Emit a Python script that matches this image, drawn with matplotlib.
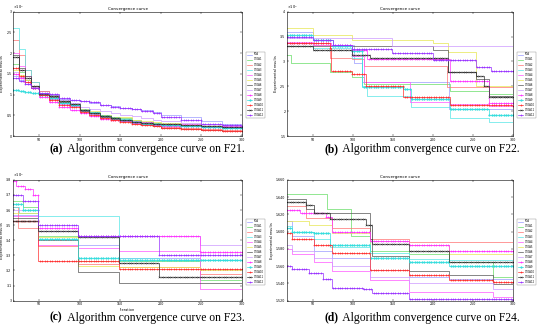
import matplotlib
matplotlib.use("Agg")
import matplotlib.pyplot as plt
import numpy as np

names = ["FOA"] + ["CTOA%d" % i for i in range(1, 13)]
colors = ["#9a9aff", "#66dd66", "#ff7070", "#55e6e6", "#ff55ff", "#e6e650", "#555555",
          "#cc99ff", "#ff33ff", "#33dddd", "#ff3030", "#333333", "#9933ff"]
markers = [None] * 8 + ["*", "o", "*", "x", "*"]

# F21: values on a common iteration grid (x10^4)
f21_x = [18, 25, 32, 40, 50, 62, 75, 88, 100, 112, 125, 138, 150, 165, 175, 190, 200, 225, 250, 275, 300]
f21 = {
    "FOA":    [1.45, 1.35, 1.25, 1.15, 1.08, 1.0, 0.9, 0.88, 0.84, 0.8, 0.76, 0.72, 0.68, 0.65, 0.62, 0.58, 0.52, 0.45, 0.36, 0.30, 0.28],
    "CTOA1":  [1.75, 1.55, 1.35, 1.2, 1.05, 0.98, 0.84, 0.76, 0.64, 0.58, 0.5, 0.45, 0.44, 0.38, 0.34, 0.32, 0.3, 0.27, 0.23, 0.21, 0.2],
    "CTOA2":  [2.33, 1.95, 1.6, 1.3, 1.08, 0.95, 0.82, 0.74, 0.6, 0.55, 0.46, 0.40, 0.36, 0.3, 0.27, 0.25, 0.22, 0.2, 0.16, 0.14, 0.13],
    "CTOA3":  [2.6, 2.1, 1.6, 1.3, 1.05, 0.9, 0.8, 0.72, 0.62, 0.57, 0.5, 0.44, 0.42, 0.36, 0.32, 0.3, 0.28, 0.25, 0.22, 0.2, 0.19],
    "CTOA4":  [2.0, 1.7, 1.45, 1.22, 1.0, 0.9, 0.78, 0.72, 0.6, 0.54, 0.47, 0.42, 0.4, 0.36, 0.33, 0.3, 0.3, 0.28, 0.25, 0.24, 0.22],
    "CTOA5":  [1.6, 1.48, 1.35, 1.2, 1.05, 0.96, 0.85, 0.78, 0.65, 0.6, 0.52, 0.46, 0.45, 0.4, 0.36, 0.33, 0.31, 0.27, 0.24, 0.22, 0.21],
    "CTOA6":  [1.95, 1.65, 1.45, 1.2, 1.0, 0.95, 0.82, 0.76, 0.6, 0.55, 0.47, 0.42, 0.38, 0.33, 0.28, 0.24, 0.2, 0.18, 0.15, 0.12, 0.12],
    "CTOA7":  [1.55, 1.42, 1.3, 1.18, 1.05, 0.98, 0.86, 0.8, 0.7, 0.66, 0.6, 0.56, 0.52, 0.48, 0.44, 0.4, 0.36, 0.32, 0.28, 0.26, 0.24],
    "CTOA8":  [1.5, 1.4, 1.3, 1.15, 0.95, 0.82, 0.7, 0.62, 0.55, 0.48, 0.42, 0.38, 0.36, 0.32, 0.28, 0.26, 0.25, 0.24, 0.22, 0.21, 0.2],
    "CTOA9":  [1.1, 1.08, 1.06, 1.04, 1.0, 0.92, 0.8, 0.74, 0.62, 0.56, 0.48, 0.43, 0.4, 0.35, 0.3, 0.28, 0.26, 0.24, 0.21, 0.2, 0.2],
    "CTOA10": [1.65, 1.45, 1.3, 1.15, 1.0, 0.88, 0.75, 0.7, 0.58, 0.52, 0.44, 0.38, 0.35, 0.3, 0.26, 0.24, 0.2, 0.17, 0.15, 0.13, 0.13],
    "CTOA11": [1.9, 1.6, 1.4, 1.2, 1.02, 0.96, 0.84, 0.78, 0.62, 0.56, 0.48, 0.43, 0.4, 0.35, 0.32, 0.3, 0.28, 0.26, 0.24, 0.22, 0.21],
    "CTOA12": [1.4, 1.33, 1.25, 1.15, 1.05, 1.02, 0.92, 0.88, 0.85, 0.82, 0.75, 0.70, 0.68, 0.66, 0.6, 0.55, 0.45, 0.38, 0.30, 0.26, 0.25],
}

# F22: (step iterations, values) x10^4
f22 = {
    "FOA":    ([18, 50, 75, 101, 112, 220, 300], [3.60, 3.44, 3.34, 2.97, 2.58, 2.05, 2.05]),
    "CTOA1":  ([18, 23, 71, 99, 114, 221, 270, 300], [3.14, 2.96, 2.78, 2.68, 2.55, 2.41, 2.35, 2.35]),
    "CTOA2":  ([18, 50, 71, 99, 114, 217, 300], [3.37, 3.34, 3.07, 3.04, 2.91, 2.48, 2.46]),
    "CTOA3":  ([18, 50, 99, 112, 118, 172, 221, 270, 300], [3.37, 3.27, 3.07, 2.51, 2.31, 2.08, 1.87, 1.78, 1.78]),
    "CTOA4":  ([18, 50, 99, 114, 171, 221, 270, 300], [3.40, 3.34, 3.11, 2.58, 2.18, 2.15, 2.10, 2.10]),
    "CTOA5":  ([18, 50, 99, 200, 219, 254, 300], [3.67, 3.54, 3.44, 3.37, 3.20, 2.50, 2.45]),
    "CTOA6":  ([18, 200, 219, 254, 270, 300], [3.31, 3.24, 2.78, 2.64, 2.31, 2.26]),
    "CTOA7":  ([18, 149, 300], [3.48, 3.31, 3.31]),
    "CTOA8":  ([18, 73, 99, 118, 221, 270, 300], [3.37, 3.33, 3.24, 3.04, 2.61, 2.17, 2.17]),
    "CTOA9":  ([18, 50, 75, 99, 112, 163, 172, 221, 270, 300], [3.54, 3.44, 3.31, 3.21, 2.48, 2.45, 2.25, 2.05, 1.92, 1.92]),
    "CTOA10": ([18, 71, 73, 99, 116, 163, 221, 300], [3.37, 3.27, 2.81, 2.74, 2.51, 2.28, 2.12, 2.10]),
    "CTOA11": ([18, 50, 99, 122, 219, 254, 264, 270, 300], [3.31, 3.24, 3.14, 3.07, 2.78, 2.71, 2.51, 2.28, 2.28]),
    "CTOA12": ([18, 50, 75, 99, 149, 200, 254, 272, 300], [3.50, 3.44, 3.33, 3.26, 3.17, 3.02, 2.88, 2.81, 2.81]),
}

# F23 x10^4
f23 = {
    "FOA":    ([18, 49, 98, 148, 248, 300], [3.57, 3.46, 3.37, 3.28, 3.27, 3.27]),
    "CTOA1":  ([18, 30, 49, 98, 148, 248, 300], [3.66, 3.62, 3.43, 3.26, 3.26, 3.14, 3.14]),
    "CTOA2":  ([18, 24, 49, 98, 148, 248, 300], [3.62, 3.48, 3.36, 3.24, 3.22, 3.18, 3.18]),
    "CTOA3":  ([18, 25, 49, 148, 198, 300], [3.62, 3.58, 3.56, 3.28, 3.27, 3.27]),
    "CTOA4":  ([18, 49, 98, 148, 248, 300], [3.56, 3.37, 3.35, 3.33, 3.08, 3.08]),
    "CTOA5":  ([18, 49, 98, 148, 248, 300], [3.58, 3.42, 3.23, 3.22, 3.20, 3.20]),
    "CTOA6":  ([18, 49, 98, 148, 300], [3.55, 3.40, 3.19, 3.12, 3.12]),
    "CTOA7":  ([18, 49, 98, 248, 300], [3.60, 3.46, 3.43, 3.37, 3.37]),
    "CTOA8":  ([18, 22, 32, 42, 49, 98, 248, 300], [3.79, 3.76, 3.74, 3.70, 3.48, 3.43, 3.32, 3.32]),
    "CTOA9":  ([18, 30, 49, 98, 148, 300], [3.64, 3.60, 3.41, 3.28, 3.27, 3.27]),
    "CTOA10": ([18, 49, 148, 300], [3.53, 3.26, 3.21, 3.21]),
    "CTOA11": ([18, 49, 98, 148, 198, 300], [3.53, 3.46, 3.42, 3.25, 3.16, 3.16]),
    "CTOA12": ([18, 30, 49, 98, 198, 300], [3.70, 3.66, 3.50, 3.43, 3.30, 3.30]),
}

# F24
f24 = {
    "FOA":    ([18, 24, 51, 74, 121, 170, 220, 300], [1.612, 1.595, 1.578, 1.570, 1.556, 1.547, 1.545, 1.545]),
    "CTOA1":  ([18, 68, 98, 121, 170, 220, 275, 300], [1.644, 1.626, 1.595, 1.578, 1.574, 1.565, 1.548, 1.548]),
    "CTOA2":  ([18, 42, 74, 121, 170, 300], [1.630, 1.616, 1.604, 1.592, 1.588, 1.588]),
    "CTOA3":  ([18, 24, 51, 72, 121, 170, 220, 300], [1.606, 1.600, 1.592, 1.582, 1.575, 1.568, 1.567, 1.567]),
    "CTOA4":  ([18, 24, 51, 74, 121, 170, 275, 300], [1.580, 1.574, 1.565, 1.554, 1.544, 1.530, 1.524, 1.524]),
    "CTOA5":  ([18, 45, 74, 121, 170, 220, 300], [1.612, 1.608, 1.598, 1.589, 1.585, 1.574, 1.570]),
    "CTOA6":  ([18, 42, 51, 121, 124, 170, 220, 275, 300], [1.638, 1.626, 1.622, 1.591, 1.572, 1.554, 1.550, 1.539, 1.539]),
    "CTOA7":  ([18, 24, 51, 74, 121, 170, 275, 300], [1.585, 1.578, 1.570, 1.560, 1.548, 1.540, 1.534, 1.534]),
    "CTOA8":  ([18, 34, 66, 74, 121, 170, 220, 300], [1.625, 1.622, 1.617, 1.600, 1.589, 1.585, 1.577, 1.577]),
    "CTOA9":  ([18, 24, 51, 72, 121, 170, 220, 300], [1.604, 1.600, 1.598, 1.585, 1.570, 1.565, 1.560, 1.560]),
    "CTOA10": ([18, 24, 51, 74, 121, 170, 220, 275, 300], [1.598, 1.592, 1.584, 1.575, 1.556, 1.550, 1.544, 1.542, 1.542]),
    "CTOA11": ([18, 42, 51, 72, 116, 124, 170, 220, 300], [1.634, 1.631, 1.622, 1.615, 1.608, 1.586, 1.577, 1.565, 1.565]),
    "CTOA12": ([18, 24, 45, 63, 74, 113, 124, 170, 300], [1.560, 1.557, 1.552, 1.545, 1.535, 1.533, 1.529, 1.522, 1.521]),
}

captions = [("(a)", " Algorithm convergence curve on F21."),
            ("(b)", " Algorithm convergence curve on F22."),
            ("(c)", " Algorithm convergence curve on F23."),
            ("(d)", " Algorithm convergence curve on F24.")]

iters = np.arange(18, 301)


def step_values(xs, ys):
    idx = np.searchsorted(xs, iters, side="right") - 1
    return np.asarray(ys)[idx]


fig = plt.figure(figsize=(5.5, 3.36), dpi=100)
positions = [[0.024, 0.595, 0.416, 0.370], [0.522, 0.595, 0.411, 0.370],
             [0.024, 0.105, 0.416, 0.360], [0.522, 0.105, 0.411, 0.360]]
ylims = [(0, 3), (1.5, 4), (3.0, 3.8), (1.52, 1.66)]
yticks = [np.arange(0, 3.01, 0.5), np.arange(1.5, 4.01, 0.5),
          np.arange(3.0, 3.81, 0.1), np.arange(1.52, 1.661, 0.02)]
ylabels_fmt = ["%g", "%g", "%g", "%.3f"]
datasets = [{k: (f21_x, v) for k, v in f21.items()}, f22, f23, f24]

for i, pos in enumerate(positions):
    ax = fig.add_axes(pos)
    data = datasets[i]
    for j, name in enumerate(names):
        xs, ys = data[name]
        ax.plot(iters, step_values(xs, ys), color=colors[j], lw=0.5,
                drawstyle="steps-post", marker=markers[j], markevery=3,
                ms=1.2, mew=0.3, label=name)
    ax.set_xlim(18, 300)
    ax.set_ylim(*ylims[i])
    ax.set_xticks([50, 100, 150, 200, 250, 300])
    ax.set_yticks(yticks[i])
    ax.set_yticklabels([ylabels_fmt[i] % t for t in yticks[i]])
    ax.tick_params(direction="in", top=True, right=True, length=1.5, width=0.3,
                   labelsize=2.3, pad=1.2)
    for s in ax.spines.values():
        s.set_linewidth(0.4)
    ax.set_title("Convergence curve", fontsize=3, pad=1.5)
    ax.set_ylabel("Experimental results", fontsize=2.5, labelpad=1.5)
    if i == 2:
        ax.set_xlabel("Iteration", fontsize=2.5, labelpad=1)
    if i < 3:
        ax.text(0.0, 1.004, "$\\times10^4$", transform=ax.transAxes, fontsize=2.5,
                ha="left", va="bottom")
    leg = ax.legend(loc="upper left", bbox_to_anchor=(1.012, 0.69), fontsize=1.8,
                    handlelength=2.2, labelspacing=0.42, borderpad=0.35,
                    handletextpad=0.5, fancybox=False, framealpha=1)
    leg.get_frame().set_linewidth(0.3)
    leg.get_frame().set_edgecolor("#888888")

cap_pos = [(0.27, 0.556), (0.77, 0.556), (0.27, 0.055), (0.77, 0.055)]
for (tag, rest), (cx, cy) in zip(captions, cap_pos):
    fig.text(cx - 0.18, cy, tag, fontsize=8.4, family="Liberation Serif",
             weight="bold", ha="left", va="center")
    fig.text(cx - 0.18 + 0.029, cy, rest, fontsize=8.4, family="Liberation Serif",
             ha="left", va="center")

fig.savefig("out.png", dpi=100)
